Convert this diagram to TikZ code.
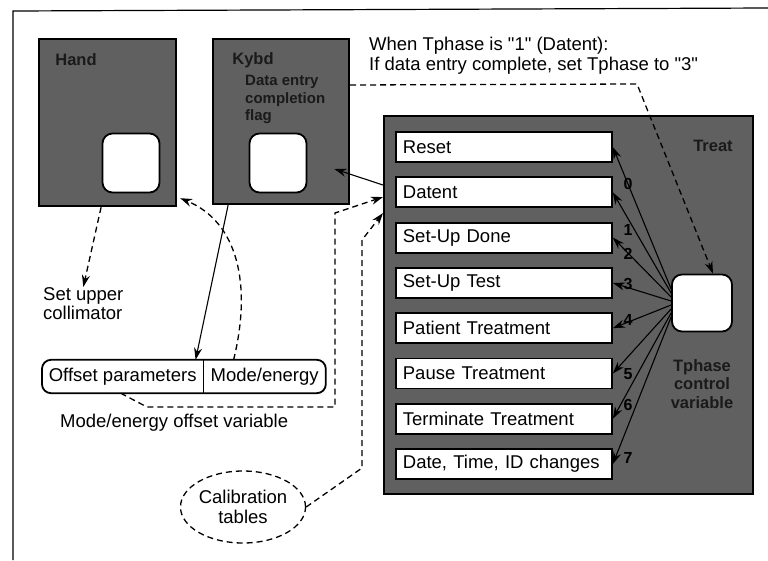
\documentclass[tikz,border=0pt]{standalone}
\usepackage{fontspec}
\setmainfont{Liberation Sans}
\usepackage{xcolor}
\usetikzlibrary{arrows.meta,shapes.geometric}
\definecolor{taskgray}{HTML}{606060}
\definecolor{tasktext}{HTML}{1A1A1A}

\begin{document}
\begin{tikzpicture}[x=1pt, y=-1pt,
    font=\fontsize{18.5}{19}\selectfont,
    task/.style={fill=taskgray, draw, line width=2.2pt, rectangle, anchor=north west, inner sep=0pt},
    tasklabel/.style={text=tasktext, font=\fontsize{16.5}{18.5}\selectfont\bfseries, inner sep=0pt},
    slot/.style={fill=white, draw, line width=1.8pt, rounded corners=10pt, inner sep=0pt},
    phasebox/.style={fill=white, draw, line width=1.8pt, rectangle, anchor=west, minimum width=216pt, minimum height=30pt, inner xsep=7pt, inner ysep=0pt, text width=202pt, align=left},
    phasenum/.style={text=black, font=\fontsize{16}{16}\selectfont\bfseries, inner sep=0pt},
    varpart/.style={rectangle, anchor=west, minimum height=33pt, inner sep=0pt},
    flow/.style={line width=1.1pt, -{Stealth[length=12pt, width=8pt]}},
    dflow/.style={line width=1.3pt, dash pattern=on 6pt off 4pt, -{Stealth[length=12pt, width=8pt]}}]

        \useasboundingbox (0, 0) rectangle (768, 560);
        \draw [line width = 1.2pt] (768, 8) -- (13, 11) -- (13, 560);

        % Tasks
        \node [task, minimum width = 137pt, minimum height = 167pt] (hand) at (38, 38) {};
        \node [tasklabel] (handlbl) at (76, 60) {Hand};
        \node [slot, minimum width = 57pt, minimum height = 59pt] (handslot) at (131, 163) {};

        \node [task, minimum width = 136pt, minimum height = 165pt] (kybd) at (212, 38) {};
        \node [tasklabel] (kybdlbl) at (253, 60) {Kybd};
        \node [tasklabel, anchor = north west, align = left, font = \fontsize{15}{17.5}\selectfont\bfseries] (flaglbl) at (245, 75) {Data entry\\completion\\flag};
        \node [slot, minimum width = 57pt, minimum height = 59pt] (kybdslot) at (278, 163) {};

        \node [task, minimum width = 369pt, minimum height = 378pt] (treat) at (383, 115) {};
        \node [tasklabel] (treatlbl) at (713, 146) {Treat};
        \node [slot, minimum width = 60pt, minimum height = 57pt] (tphase) at (702, 303) {};
        \node [tasklabel, align = center] (tphaselbl) at (702, 384) {Tphase\\control\\variable};

        % Treat phases
        \foreach \txt [count = \i from 0] in {Reset, Datent, Set-Up Done, Set-Up Test, Patient Treatment, Pause Treatment, Terminate Treatment, {Date, Time, ID changes}}
            \node [phasebox] (item\i) at (395, 147 + 45.3*\i) {\txt};

        \foreach \i in {0, ..., 7}
            \draw [flow] ([yshift = {(3.5 - \i)*4pt}]tphase.west) -- (item\i.east);

        \foreach \n/\y in {0/184, 1/230, 2/254, 3/284, 4/320, 5/374, 6/405, 7/458}
            \node [phasenum] (num\n) at (628, \y) {\n};

        % Notes
        \node [anchor = north west, align = left, inner sep = 0pt, font = \fontsize{18.5}{20}\selectfont] (when) at (369, 37) {When Tphase is \textquotedbl1\textquotedbl{} (Datent):\\If data entry complete, set Tphase to \textquotedbl3\textquotedbl};
        \node [anchor = north west, align = left, inner sep = 0pt] (collim) at (43, 287) {Set upper\\collimator};
        \node [anchor = west, inner sep = 0pt] (meoslbl) at (60, 423) {Mode/energy offset variable};

        % Mode/energy offset variable
        \node [varpart, minimum width = 161pt] (offpar) at (42, 376.5) {Offset parameters};
        \node [varpart, minimum width = 122pt] (modeen) at (offpar.east) {Mode/energy};
        \draw [line width = 1.8pt, rounded corners = 9pt] (offpar.north west) rectangle (modeen.south east);
        \draw [line width = 1.8pt] (offpar.north east) -- (offpar.south east);

        \node [ellipse, draw, line width = 1.3pt, dash pattern = on 6pt off 4pt, minimum width = 114pt, minimum height = 72pt, align = center, inner sep = 0pt, font = \fontsize{18.5}{20}\selectfont] (calib) at (243, 507) {Calibration\\tables};

        % Connectors
        \draw [dflow] ([xshift = -6.5pt]hand.south) -- (collim.north);
        \draw [dflow] ([xshift = -31pt]modeen.north) .. controls (252, 285) and (238, 222) .. ([shift = {(3, -9)}]hand.south east);
        \draw [flow] ([xshift = -53pt]kybd.south) -- ([xshift = -69pt]modeen.north);
        \draw [flow] (treat.west |- 0, 185) -- ([shift = {(27, 6)}]kybdslot.east);
        \draw [dflow] (kybd.east |- 0, 85) -- (637, 84) -- ([xshift = 11pt]tphase.north);
        \draw [dflow] ([xshift = -2pt]offpar.south) -- (147, 407) -- (335, 407) -- (335, 213) -- (treat.west |- 0, 197);
        \draw [dflow] (calib.east) -- (362, 468) -- (362, 240) -- (treat.west |- 0, 213);

    \end{tikzpicture}
\end{document}
